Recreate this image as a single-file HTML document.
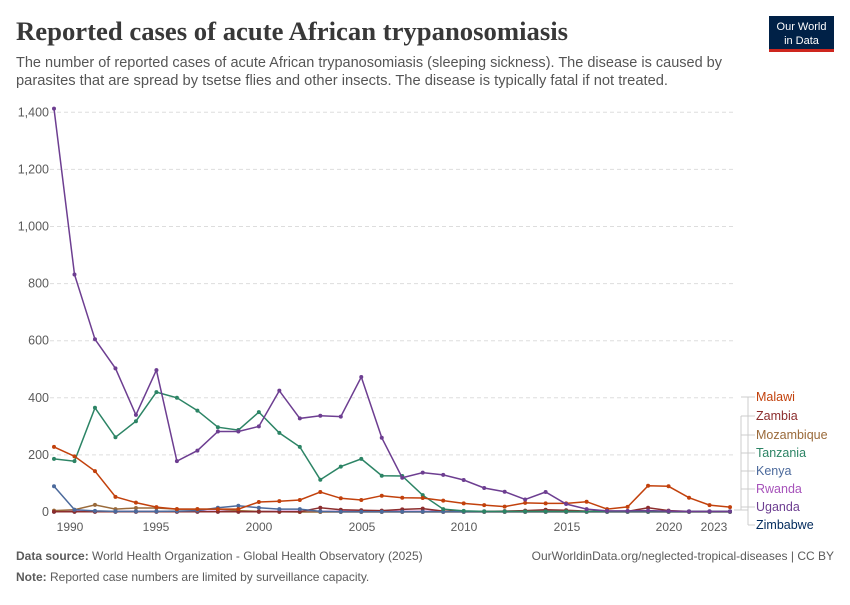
<!DOCTYPE html>
<html><head><meta charset="utf-8"><style>
body{margin:0;background:#fff;width:850px;height:600px;overflow:hidden;font-family:"Liberation Sans",sans-serif}
</style></head><body>
<svg id="s" width="850" height="600" xmlns="http://www.w3.org/2000/svg" font-family="Liberation Sans, sans-serif">
<text x="16" y="40" font-family="Liberation Serif, serif" font-size="26" font-weight="bold" fill="#383838" textLength="552" lengthAdjust="spacingAndGlyphs">Reported cases of acute African trypanosomiasis</text>
<text x="16" y="67" font-size="14.5" fill="#555" textLength="706" lengthAdjust="spacingAndGlyphs">The number of reported cases of acute African trypanosomiasis (sleeping sickness). The disease is caused by</text>
<text x="16" y="85" font-size="14.5" fill="#555" textLength="652" lengthAdjust="spacingAndGlyphs">parasites that are spread by tsetse flies and other insects. The disease is typically fatal if not treated.</text>
<rect x="769" y="16" width="65" height="34" fill="#002147"/>
<rect x="769" y="49" width="65" height="3" fill="#ce261e"/>
<text x="801.5" y="30" font-size="11" fill="#fff" text-anchor="middle">Our World</text>
<text x="801.5" y="44" font-size="11" fill="#fff" text-anchor="middle">in Data</text>
<g id="grid"></g>
<g id="lines"></g>
<g font-size="12" fill="#5b5b5b">
<text x="70" y="531" text-anchor="middle">1990</text>
<text x="156" y="531" text-anchor="middle">1995</text>
<text x="259" y="531" text-anchor="middle">2000</text>
<text x="362" y="531" text-anchor="middle">2005</text>
<text x="464" y="531" text-anchor="middle">2010</text>
<text x="567" y="531" text-anchor="middle">2015</text>
<text x="669" y="531" text-anchor="middle">2020</text>
<text x="714" y="531" text-anchor="middle">2023</text>
</g>
<g fill="none" stroke="#ccc" stroke-width="1">
<path d="M734 510 H748 M748 397 V510 M741 397 H755 M741 416 V510 M741 416 H755 M741 435 V510 M741 435 H755 M741 453 V510 M741 453 H755 M741 471 V510 M741 471 H755 M741 489 V510 M741 489 H755 M741 507 V510 M741 507 H755 M748 510 V525 M748 525 H755"/>
</g>
<g font-size="12.5">
<text x="756" y="401" fill="#c2410c">Malawi</text>
<text x="756" y="420" fill="#8c2d2d">Zambia</text>
<text x="756" y="439" fill="#9a6a3a">Mozambique</text>
<text x="756" y="457" fill="#2c8465">Tanzania</text>
<text x="756" y="475" fill="#4c6a9c">Kenya</text>
<text x="756" y="493" fill="#a652ba">Rwanda</text>
<text x="756" y="511" fill="#6d3e91">Uganda</text>
<text x="756" y="529" fill="#00295b">Zimbabwe</text>
</g>
<text x="16" y="560" font-size="12" fill="#5b5b5b"><tspan font-weight="bold">Data source:</tspan> World Health Organization - Global Health Observatory (2025)</text>
<text x="834" y="560" font-size="12" fill="#5b5b5b" text-anchor="end">OurWorldinData.org/neglected-tropical-diseases | CC BY</text>
<text x="16" y="581" font-size="12" fill="#5b5b5b"><tspan font-weight="bold">Note:</tspan> Reported case numbers are limited by surveillance capacity.</text>
</svg>
<script>
const X=y=>54+(y-1990)*20.485, Y=v=>512-v*0.2855;
const ns="http://www.w3.org/2000/svg";
const g=document.getElementById('grid');
[0,200,400,600,800,1000,1200,1400].forEach(v=>{
 if(v>0){const l=document.createElementNS(ns,'line');l.setAttribute('x1',50);l.setAttribute('x2',734);l.setAttribute('y1',Y(v));l.setAttribute('y2',Y(v));l.setAttribute('stroke','#ddd');l.setAttribute('stroke-dasharray','4,3');g.appendChild(l);}
 const t=document.createElementNS(ns,'text');t.setAttribute('x',49);t.setAttribute('y',Y(v)+4);t.setAttribute('text-anchor','end');t.setAttribute('font-size','12.5');t.setAttribute('fill','#5b5b5b');t.textContent=v.toLocaleString('en-US');g.appendChild(t);
});
const z=n=>Array(n).fill(0);
const S=[
['#00295b',[1,1,1,1,1,1,1,1,1,1,1,1,1,1,1,1,1,1,1,1,1,1,1,1,1,1,1,1,1,1,1,1,1,1]],
['#a652ba',[2,2,2,2,2,2,2,2,2,2,2,2,2,2,2,2,2,2,2,2,2,2,2,2,2,2,2,2,2,2,2,2,2,2]],
['#9a6a3a',[5,8,25,10,14,14,10,10,10,5,2,1,0,0,0,0,0,0,0,0,0,0,0,0,0,0,0,0,0,0,0,0,0,0]],
['#8c2d2d',[1,1,1,1,1,1,1,1,1,1,1,1,1,15,8,6,5,9,12,3,2,2,3,5,8,6,3,2,2,15,5,2,2,2]],
['#4c6a9c',[90,8,4,2,2,2,3,5,15,22,15,10,10,2,1,1,1,1,1,1,1,1,1,1,1,1,1,1,1,1,1,1,1,1]],
['#2c8465',[186,178,365,262,318,420,400,355,297,287,350,277,228,113,159,186,127,126,59,10,4,2,2,2,2,2,2,2,2,2,2,2,2,2]],
['#c2410c',[228,195,143,53,33,17,10,10,10,10,35,38,42,70,48,42,57,50,49,40,30,24,19,32,30,30,36,10,18,92,90,50,24,17]],
['#6d3e91',[1413,832,605,503,340,497,178,215,282,282,300,425,328,337,334,473,260,120,138,130,112,84,71,44,70,28,10,4,4,5,3,2,2,2]]
];
const L=document.getElementById('lines');
S.forEach(([c,d])=>{
 const p=document.createElementNS(ns,'path');
 p.setAttribute('d',d.map((v,i)=>(i?'L':'M')+X(1990+i).toFixed(1)+' '+Y(v).toFixed(1)).join(''));
 p.setAttribute('stroke',c);p.setAttribute('stroke-width','1.5');p.setAttribute('fill','none');L.appendChild(p);
 d.forEach((v,i)=>{const e=document.createElementNS(ns,'circle');e.setAttribute('cx',X(1990+i));e.setAttribute('cy',Y(v));e.setAttribute('r',2);e.setAttribute('fill',c);L.appendChild(e);});
});
</script>
</body></html>
